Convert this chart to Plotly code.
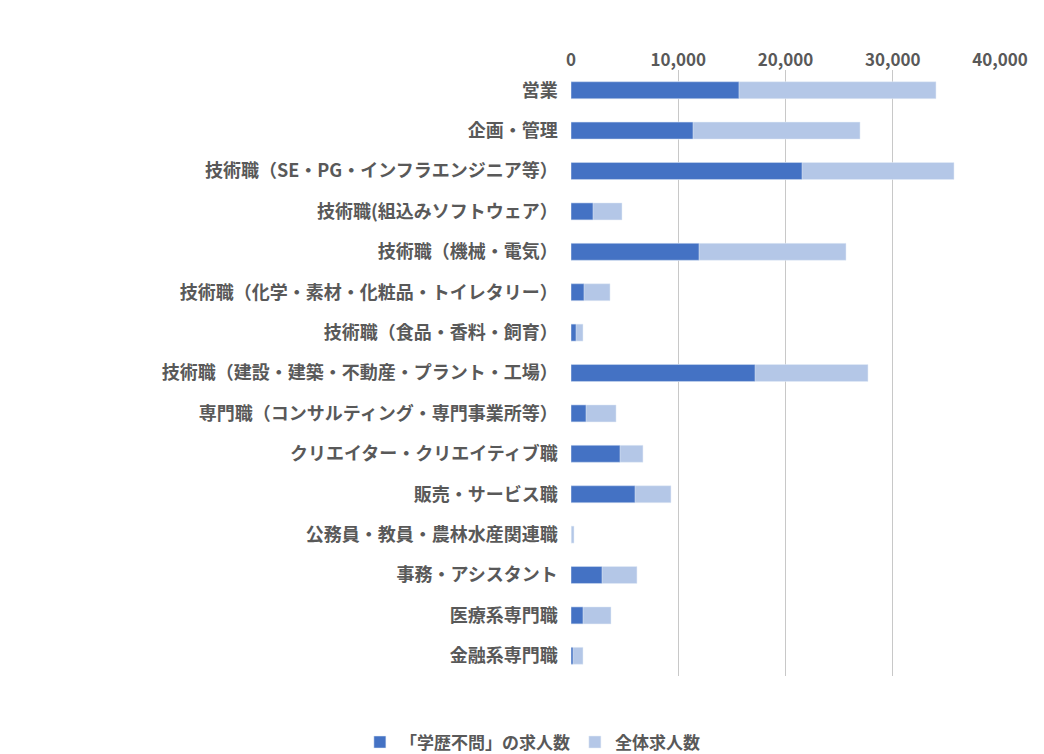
import plotly.graph_objects as go

categories = ["営業", "企画・管理", "技術職（SE・PG・インフラエンジニア等）", "技術職(組込みソフトウェア）",
              "技術職（機械・電気）", "技術職（化学・素材・化粧品・トイレタリー）", "技術職（食品・香料・飼育）",
              "技術職（建設・建築・不動産・プラント・工場）", "専門職（コンサルティング・専門事業所等）",
              "クリエイター・クリエイティブ職", "販売・サービス職", "公務員・教員・農林水産関連職",
              "事務・アシスタント", "医療系専門職", "金融系専門職"]
no_degree = [15660, 11375, 21540, 2050, 11935, 1210, 470, 17160, 1400, 4570, 5970, 0, 2890, 1120, 190]
total = [34030, 26950, 35710, 4755, 25640, 3640, 1120, 27690, 4200, 6710, 9320, 280, 6150, 3730, 1120]

font = "Noto Sans CJK JP"
fig = go.Figure()
fig.add_trace(go.Bar(y=categories, x=total, orientation="h", name="全体求人数",
                     marker_color="#B4C7E7", width=0.42))
fig.add_trace(go.Bar(y=categories, x=no_degree, orientation="h", name="「学歴不問」の求人数",
                     marker_color="#4472C4", width=0.42))
fig.update_layout(
    width=1044, height=754, barmode="overlay", plot_bgcolor="white", paper_bgcolor="white",
    margin=dict(l=563, r=52, t=62, b=86, autoexpand=False),
    font=dict(family=font, size=17, color="#595959", weight="bold"),
    legend=dict(orientation="h", x=-0.09, xanchor="center", y=-0.08, yanchor="top",
                traceorder="reversed", font=dict(size=17, weight="bold")),
    xaxis=dict(side="top", range=[0, 40000], dtick=10000, tickformat=",", showgrid=True,
               gridcolor="#C8C8C8", zeroline=False, tickfont=dict(size=17, weight="bold"),
               showline=False, automargin=False),
    yaxis=dict(autorange="reversed", ticksuffix="   ", showline=False, automargin=False,
               tickfont=dict(size=18, weight="bold")),
)
fig.write_html("out.html")
